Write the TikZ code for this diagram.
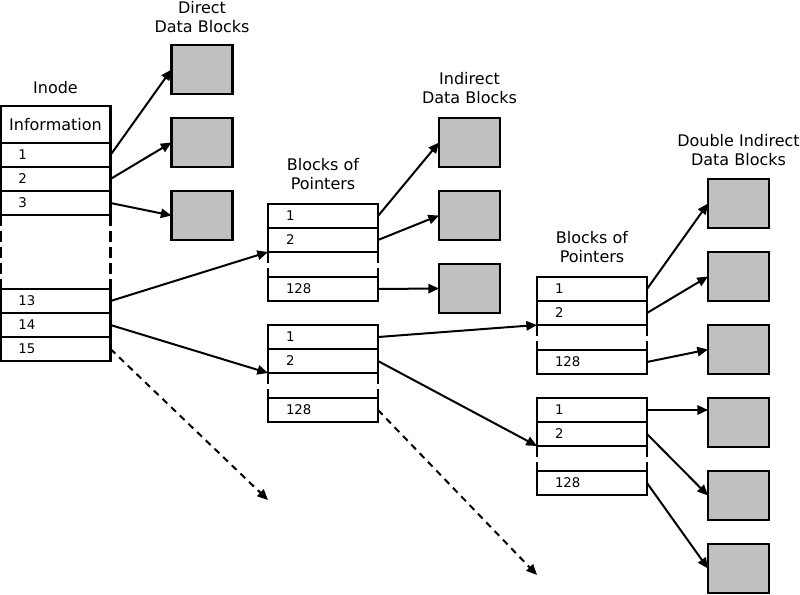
\documentclass[tikz,border=0pt]{standalone}
\usepackage{fontspec}
\setmainfont{DejaVu Sans}
\usetikzlibrary{arrows.meta}
\definecolor{blockgray}{RGB}{192,192,192}

\begin{document}
\begin{tikzpicture}[x=0.75pt,y=-0.75pt,
  cell/.style={draw,line width=1.8pt,minimum width=82.5pt,minimum height=18pt,
    text width=55.5pt,align=left,inner xsep=13.5pt,inner ysep=0pt,outer sep=0pt,
    font=\fontsize{10}{11}\selectfont},
  datablock/.style={draw,fill=blockgray,line width=1.8pt,minimum width=45.75pt,
    minimum height=36.75pt,inner sep=0pt,outer sep=0pt},
  lbl/.style={align=center,font=\fontsize{12}{14.25}\selectfont},
  gap/.style={line width=1.8pt,dash pattern=on 8pt off 4pt},
  ptr/.style={-{Triangle[length=8pt,width=7pt]},line width=1.5pt},
  more/.style={ptr,dash pattern=on 5pt off 4pt}]
  \useasboundingbox (0,0) rectangle (800,595);
  % inode
  \node[lbl] (lblinode) at (55.5,88) {Inode};
  \node[cell,minimum height=27.75pt,text width=78pt,inner xsep=2.25pt,align=center,
    font=\fontsize{12}{14}\selectfont] (info) at (55.5,124.5) {Information};
  \node[cell] (i1) at (55.5,155) {1};
  \node[cell] (i2) at (55.5,179) {2};
  \node[cell] (i3) at (55.5,203) {3};
  \node[cell] (i13) at (55.5,301) {13};
  \node[cell] (i14) at (55.5,325) {14};
  \node[cell] (i15) at (55.5,349) {15};
  \draw[gap] (i3.south west) -- (i13.north west);
  \draw[gap] (i3.south east) -- (i13.north east);
  % direct data blocks
  \node[lbl] (lbldirect) at (202,17) {Direct\\Data Blocks};
  \node[datablock] (dir1) at (202,69.5) {};
  \node[datablock] (dir2) at (202,142.5) {};
  \node[datablock] (dir3) at (202,215.5) {};
  % first level blocks of pointers
  \node[lbl] (lblptrA) at (323,174.5) {Blocks of\\Pointers};
  \node[cell] (a1) at (323,216) {1};
  \node[cell] (a2) at (323,240) {2};
  \node[cell] (a128) at (323,289) {128};
  \draw[gap] (a2.south west) -- (a128.north west);
  \draw[gap] (a2.south east) -- (a128.north east);
  \node[cell] (b1) at (323,337) {1};
  \node[cell] (b2) at (323,361) {2};
  \node[cell] (b128) at (323,410) {128};
  \draw[gap] (b2.south west) -- (b128.north west);
  \draw[gap] (b2.south east) -- (b128.north east);
  % indirect data blocks
  \node[lbl] (lblindirect) at (469.5,88) {Indirect\\Data Blocks};
  \node[datablock] (ind1) at (469.5,142.5) {};
  \node[datablock] (ind2) at (469.5,215.5) {};
  \node[datablock] (ind3) at (469.5,288.5) {};
  % second level blocks of pointers
  \node[lbl] (lblptrC) at (592,247.5) {Blocks of\\Pointers};
  \node[cell] (c1) at (592,289) {1};
  \node[cell] (c2) at (592,313) {2};
  \node[cell] (c128) at (592,362) {128};
  \draw[gap] (c2.south west) -- (c128.north west);
  \draw[gap] (c2.south east) -- (c128.north east);
  \node[cell] (d1) at (592,410) {1};
  \node[cell] (d2) at (592,434) {2};
  \node[cell] (d128) at (592,483) {128};
  \draw[gap] (d2.south west) -- (d128.north west);
  \draw[gap] (d2.south east) -- (d128.north east);
  % double indirect data blocks
  \node[lbl] (lbldouble) at (738.5,150) {Double Indirect\\Data Blocks};
  \node[datablock] (dbl1) at (738.5,203.5) {};
  \node[datablock] (dbl2) at (738.5,276.5) {};
  \node[datablock] (dbl3) at (738.5,349.5) {};
  \node[datablock] (dbl4) at (738.5,422.5) {};
  \node[datablock] (dbl5) at (738.5,495.5) {};
  \node[datablock] (dbl6) at (738.5,568.5) {};
  \coordinate (endA) at (268,500);
  \coordinate (endB) at (537,575);
  % pointers
  \draw[ptr] (i1.east) -- (dir1.west);
  \draw[ptr] (i2.east) -- (dir2.west);
  \draw[ptr] (i3.east) -- (dir3.west);
  \draw[ptr] (i13.east) -- (a2.south west);
  \draw[ptr] (i14.east) -- (b2.south west);
  \draw[more] (i15.east) -- (endA);
  \draw[ptr] (a1.east) -- (ind1.west);
  \draw[ptr] (a2.east) -- (ind2.west);
  \draw[ptr] (a128.east) -- (ind3.west);
  \draw[ptr] (b1.east) -- (c2.south west);
  \draw[ptr] (b2.east) -- (d2.south west);
  \draw[more] (b128.east) -- (endB);
  \draw[ptr] (c1.east) -- (dbl1.west);
  \draw[ptr] (c2.east) -- (dbl2.west);
  \draw[ptr] (c128.east) -- (dbl3.west);
  \draw[ptr] (d1.east) -- (d1.east -| dbl4.west);
  \draw[ptr] (d2.east) -- (dbl5.west);
  \draw[ptr] (d128.east) -- (dbl6.west);
\end{tikzpicture}
\end{document}
